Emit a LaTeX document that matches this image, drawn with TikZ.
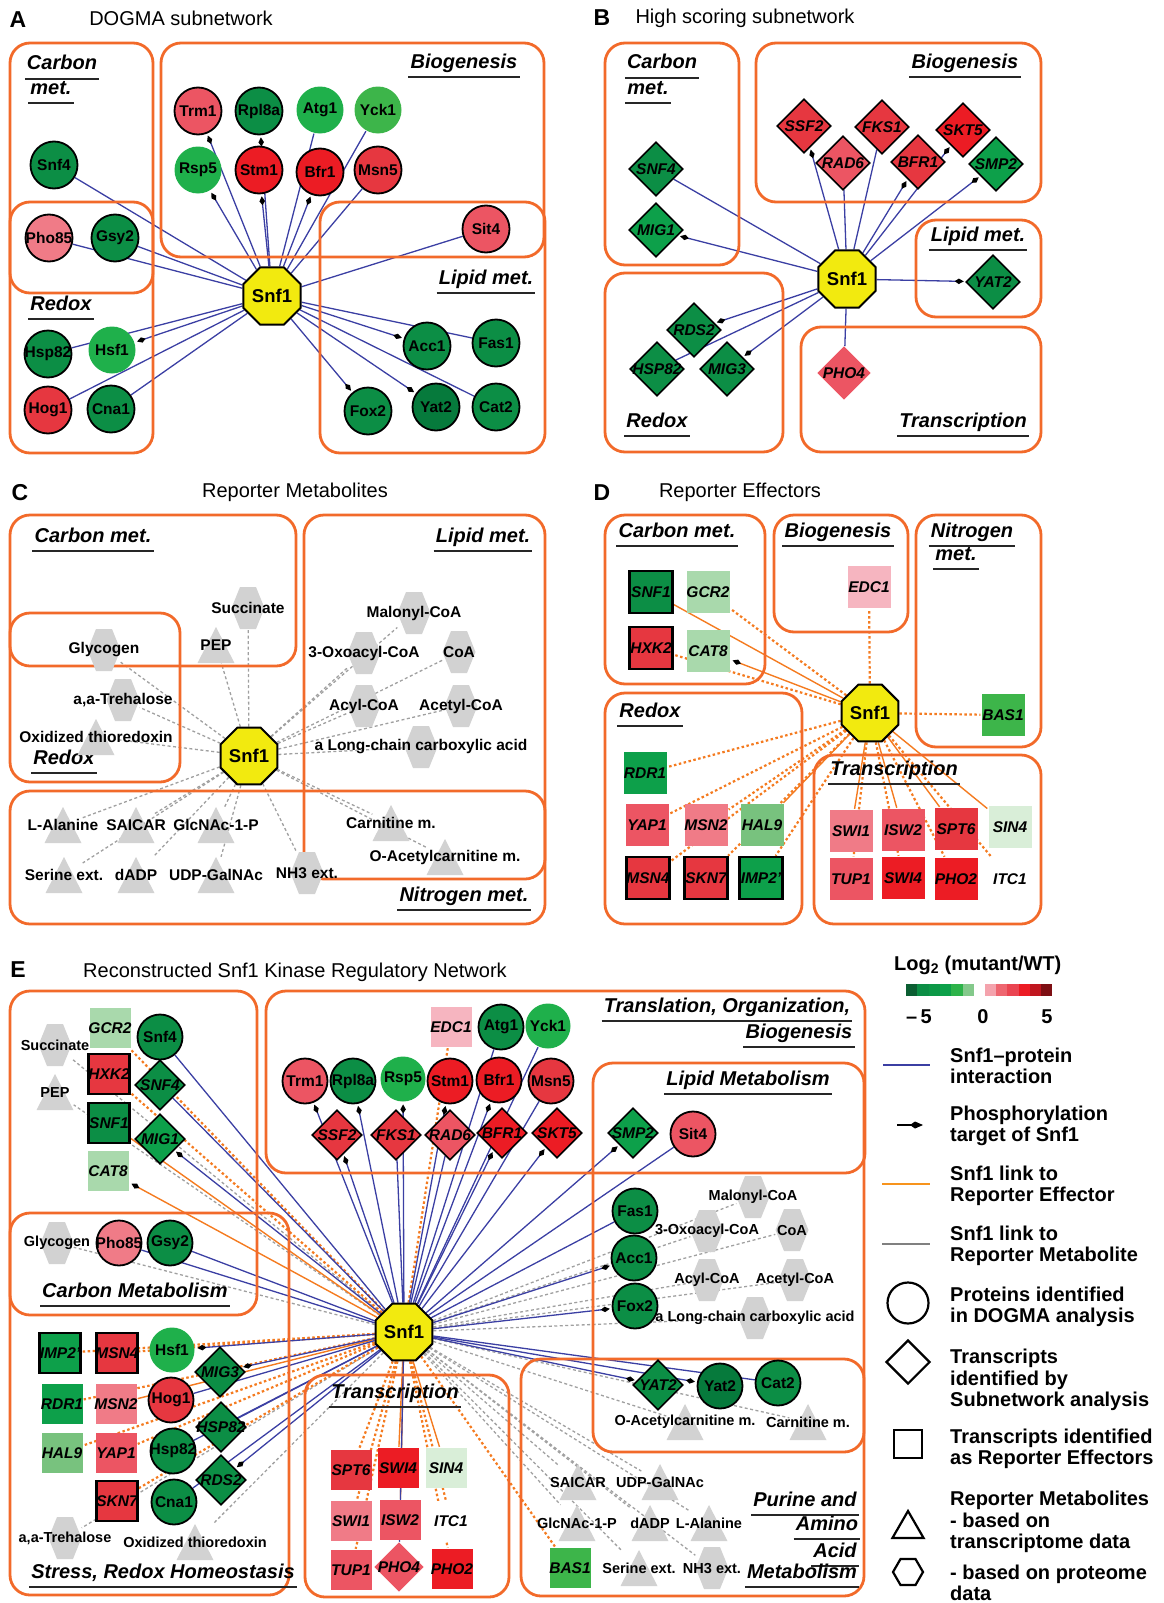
\documentclass[tikz,border=0pt]{standalone}
\usepackage{fontspec}
\setmainfont{Liberation Sans}
\usepackage{tikz}
\usetikzlibrary{arrows.meta,shapes.geometric,backgrounds,calc}
\definecolor{boxor}{HTML}{F26A2A}
\definecolor{pblue}{HTML}{3B3FA3}
\definecolor{effor}{HTML}{F47B20}
\definecolor{legor}{HTML}{F7941D}
\definecolor{metln}{HTML}{A0A0A0}
\definecolor{metgray}{HTML}{D2D2D2}
\definecolor{hubyel}{HTML}{F2EA0F}
\definecolor{gdk}{HTML}{0C8E45}
\definecolor{gdd}{HTML}{067A3C}
\definecolor{gmd}{HTML}{0DA04A}
\definecolor{glt}{HTML}{1FB04B}
\definecolor{gl2}{HTML}{3DB54A}
\definecolor{ghal}{HTML}{78C27E}
\definecolor{gpale}{HTML}{A9D9AC}
\definecolor{gwhite}{HTML}{D9EED8}
\definecolor{rbr}{HTML}{EC1C24}
\definecolor{rmd}{HTML}{E63740}
\definecolor{rlt}{HTML}{EC5563}
\definecolor{rpk}{HTML}{F07B87}
\definecolor{rpale}{HTML}{F6B5C0}
\newcommand\glab{\fontsize{20}{22}\selectfont\bfseries\itshape}
\newcommand\nlab{\fontsize{15.5}{17}\selectfont\bfseries}
\newcommand\ilab{\fontsize{15.5}{17}\selectfont\bfseries\itshape}
\newcommand\mlabc{\fontsize{15.5}{17}\selectfont\bfseries}
\newcommand\mlabe{\fontsize{14.5}{16}\selectfont\bfseries}
\newcommand\hubf{\fontsize{18.5}{20}\selectfont\bfseries}
\newcommand\ttlf{\fontsize{20}{22}\selectfont}
\newcommand\letf{\fontsize{23}{25}\selectfont\bfseries}
\newcommand\legf{\fontsize{20}{21.5}\selectfont\bfseries}
\tikzset{>=Latex,grpbox/.style={draw=boxor,line width=2.8pt,rounded corners=20pt},
hub/.style={regular polygon,regular polygon sides=8,fill=hubyel,draw=black,line width=2pt,inner sep=0pt,font=\hubf},
prot/.style={circle,line width=1.8pt,minimum size=47pt,inner sep=0pt},
tdia/.style={diamond,aspect=1,line width=1.6pt,minimum size=54pt,inner sep=0pt},
tsq/.style={rectangle,line width=2.4pt,minimum width=43pt,minimum height=42pt,inner sep=0pt},
hexm/.style={rectangle,minimum width=33pt,minimum height=42pt,inner sep=0pt,path picture={\fill[metgray] (path picture bounding box.west) -- ([xshift=-8pt]path picture bounding box.north) -- ([xshift=8pt]path picture bounding box.north) -- (path picture bounding box.east) -- ([xshift=8pt]path picture bounding box.south) -- ([xshift=-8pt]path picture bounding box.south) -- cycle;}},
trimet/.style={rectangle,minimum width=37pt,minimum height=36pt,inner sep=0pt,path picture={\fill[metgray] (path picture bounding box.north) -- (path picture bounding box.south east) -- (path picture bounding box.south west) -- cycle;}},
nl/.style={font=\nlab,inner sep=0pt},il/.style={font=\ilab,inner sep=0pt},mlc/.style={font=\mlabc,inner sep=0pt},mle/.style={font=\mlabe,inner sep=0pt},
grp/.style={font=\glab,inner sep=0pt,text height=15pt,text depth=5pt},uline/.style={line width=1.6pt,black!85},
pint/.style={draw=pblue,line width=1.3pt},phos/.style={-{Kite[length=9pt,width=5.5pt,inset=4pt,color=black]},shorten >=2pt},
reff/.style={draw=effor,line width=1.4pt},reffd/.style={draw=effor,line width=2.2pt,dash pattern=on 2.5pt off 2.5pt},
rmet/.style={draw=metln,line width=1.3pt,dash pattern=on 3pt off 2.5pt},
legt/.style={font=\legf,anchor=west,align=left,inner sep=0pt}}
\begin{document}
\begin{tikzpicture}[x=1pt,y=-1pt]
\useasboundingbox (0,0) rectangle (1164,1603);
\foreach \xa/\ya/\xb/\yb in {10/43/153/293,10/202/153/453,161/43/544/257,320/202/545/453,605/43/739/265,756/43/1041/202,916/220/1041/317,605/273/783/452,801/327/1041/452,10/515/296/666,10/613/180/782,304/515/545/879,10/791/545/924,605/515/765/684,774/515/908/632,916/515/1041/747,605/693/802/924,814/755/1041/924,10/991/257/1315,10/1213/289/1595,266/991/865/1173,593/1063/864/1452,521/1359/864/1596,305/1375/509/1597}{\draw[grpbox] (\xa,\ya) rectangle (\xb,\yb);}
\foreach \x/\y/\n/\txt in {18/20/a/A,602/18/b/B,20/493/c/C,602/493/d/D,18/970/e/E}{\node[font=\letf] (let-\n) at (\x,\y) {\txt};}
\foreach \x/\y/\n/\txt in {181/18/a/DOGMA subnetwork,745/18/b/High scoring subnetwork,295/492/c/Reporter Metabolites,740/492/d/Reporter Effectors,295/972/e/Reconstructed Snf1 Kinase Regulatory Network}{\node[font=\ttlf] (ttl-\n) at (\x,\y) {\txt};}
\foreach \x/\y/\n/\txt in {62/65/a-gc1/Carbon,51/89/a-gc2/met.,464/63/a-gb/Biogenesis,486/279/a-gl/Lipid met.,61/305/a-gr/Redox,
662/64/b-gc1/Carbon,648/89/b-gc2/met.,965/63/b-gb/Biogenesis,978/236/b-gl/Lipid met.,657/422/b-gr/Redox,963/422/b-gt/Transcription,
93/537/c-gc/Carbon met.,483/537/c-gl/Lipid met.,64/759/c-gr/Redox,464/896/c-gn/Nitrogen met.,
677/532/d-gc/Carbon met.,838/532/d-gb/Biogenesis,972/532/d-gn1/Nitrogen,956/555/d-gn2/met.,650/712/d-gr/Redox,894/770/d-gt/Transcription,
135/1292/e-gc/Carbon Metabolism,727/1007/e-gt1/{Translation, Organization,},799/1033/e-gt2/Biogenesis,748/1080/e-gl/Lipid Metabolism,395/1393/e-gtr/Transcription,163/1573/e-gs/{Stress, Redox Homeostasis},805/1501/e-gp1/Purine and,827/1525/e-gp2/Amino,835/1552/e-gp3/Acid,802/1573/e-gp4/Metabolism}{\node[grp] (\n) at (\x,\y) {\txt}; \draw[uline] ([shift={(-2pt,-4pt)}]\n.south west) -- ([shift={(2pt,-4pt)}]\n.south east);}
\foreach \x/\y/\n/\s in {272/296/a-snf1/62pt,847/279/b-snf1/62pt,249/756/c-snf1/60pt,870/713/d-snf1/60pt,404/1332/e-snf1/56pt}{\node[hub,minimum size=\s] (\n) at (\x,\y) {Snf1};}
\foreach \x/\y/\n/\col/\bd/\txt in {198/111/a-trm1/rlt/black/Trm1,259/111/a-rpl8a/gdk/black/Rpl8a,320/110/a-atg1/glt/none/Atg1,378/110/a-yck1/gl2/none/Yck1,198/170/a-rsp5/glt/none/Rsp5,259/170/a-stm1/rbr/black/Stm1,320/172/a-bfr1/rbr/black/Bfr1,378/170/a-msn5/rmd/black/Msn5,486/229/a-sit4/rlt/black/Sit4,54/165/a-snf4/gdk/black/Snf4,49/238/a-pho85/rpk/black/Pho85,115/238/a-gsy2/gdk/black/Gsy2,48/354/a-hsp82/gdk/black/Hsp82,112/350/a-hsf1/glt/none/Hsf1,48/410/a-hog1/rmd/black/Hog1,111/409/a-cna1/gdk/black/Cna1,427/346/a-acc1/gdk/black/Acc1,496/343/a-fas1/gdk/black/Fas1,368/411/a-fox2/gdk/black/Fox2,436/407/a-yat2/gdd/black/Yat2,496/407/a-cat2/gdk/black/Cat2}{\node[prot,fill=\col,draw=\bd,label={[nl]center:\txt}] (\n) at (\x,\y) {};}
\foreach \x/\y/\n/\col/\bd/\txt in {656/169/b-snf4/gdk/black/SNF4,656/230/b-mig1/gmd/black/MIG1,804/126/b-ssf2/rmd/black/SSF2,843/163/b-rad6/rlt/black/RAD6,882/127/b-fks1/rmd/black/FKS1,918/162/b-bfr1/rmd/black/BFR1,963/130/b-skt5/rbr/black/SKT5,996/164/b-smp2/gmd/black/SMP2,993/282/b-yat2/gdk/black/YAT2,694/330/b-rds2/gdk/black/RDS2,657/369/b-hsp82/gdk/black/HSP82,727/369/b-mig3/gdk/black/MIG3,844/373/b-pho4/rlt/none/PHO4}{\node[tdia,fill=\col,draw=\bd,label={[il]center:\txt}] (\n) at (\x,\y) {};}
\foreach \x/\y/\n/\txt in {248/608/c-succ/Succinate,104/650/c-glyc/Glycogen,123/700/c-treh/{a,a-Trehalose},414/613/c-malo/Malonyl-CoA,364/653/c-oxo/3-Oxoacyl-CoA,459/652/c-coa/CoA,364/706/c-acyl/Acyl-CoA,461/706/c-acet/Acetyl-CoA,421/747/c-long/a Long-chain carboxylic acid,307/873/c-nh3/NH3 ext.}{\node[hexm,label={[mlc]center:\txt}] (\n) at (\x,\y) {};}
\foreach \x/\y/\n/\txt in {216/645/c-pep/PEP,96/737/c-oxth/Oxidized thioredoxin,63/825/c-ala/L-Alanine,136/825/c-saic/SAICAR,216/825/c-glcn/GlcNAc-1-P,64/875/c-ser/Serine ext.,136/875/c-dadp/dADP,216/875/c-udp/UDP-GalNAc,391/823/c-carn/Carnitine m.,445/857/c-oac/O-Acetylcarnitine m.}{\node[trimet,label={[mlc]center:\txt}] (\n) at (\x,\y) {};}
\foreach \x/\y/\n/\col/\bd/\txt in {651/592/d-snf1sq/gdk/black/SNF1,708/592/d-gcr2/gpale/none/GCR2,651/648/d-hxk2/rmd/black/HXK2,708/651/d-cat8/gpale/none/CAT8,869/587/d-edc1/rpale/none/EDC1,1003/715/d-bas1/gl2/none/BAS1,645/773/d-rdr1/gmd/none/RDR1,647/825/d-yap1/rlt/none/YAP1,706/825/d-msn2/rpk/none/MSN2,762/825/d-hal9/ghal/none/HAL9,648/878/d-msn4/rmd/black/MSN4,706/878/d-skn7/rmd/black/SKN7,761/878/d-imp2/gmd/black/IMP2',851/831/d-swi1/rpk/none/SWI1,903/830/d-isw2/rlt/none/ISW2,956/829/d-spt6/rmd/none/SPT6,1010/827/d-sin4/gwhite/none/SIN4,851/879/d-tup1/rlt/none/TUP1,903/878/d-swi4/rbr/none/SWI4,956/879/d-pho2/rbr/none/PHO2,1010/879/d-itc1/white/none/ITC1}{\node[tsq,fill=\col,draw=\bd,label={[il]center:\txt}] (\n) at (\x,\y) {};}
\foreach \x/\y/\n/\col/\bd/\txt in {160/1037/e-snf4/gdk/black/Snf4,119/1243/e-pho85/rpk/black/Pho85,170/1243/e-gsy2/gdk/black/Gsy2,501/1027/e-atg1/gdk/black/Atg1,548/1026/e-yck1/glt/none/Yck1,305/1081/e-trm1/rlt/black/Trm1,353/1081/e-rpl8a/gdk/black/Rpl8a,403/1079/e-rsp5/glt/none/Rsp5,450/1081/e-stm1/rbr/black/Stm1,499/1080/e-bfr1/rbr/black/Bfr1,551/1081/e-msn5/rmd/black/Msn5,693/1134/e-sit4/rlt/black/Sit4,635/1211/e-fas1/gdk/black/Fas1,634/1258/e-acc1/gdk/black/Acc1,635/1306/e-fox2/gdk/black/Fox2,720/1386/e-yat2/gdd/black/Yat2,778/1383/e-cat2/gdk/black/Cat2,172/1350/e-hsf1/glt/none/Hsf1,171/1400/e-hog1/rmd/black/Hog1,173/1451/e-hsp82/gdk/black/Hsp82,174/1502/e-cna1/gdk/black/Cna1}{\node[prot,minimum size=45pt,fill=\col,draw=\bd,label={[nl]center:\txt}] (\n) at (\x,\y) {};}
\foreach \x/\y/\n/\col/\bd/\txt in {160/1085/e-snf4d/gdk/black/SNF4,160/1139/e-mig1/gmd/black/MIG1,337/1135/e-ssf2/rmd/black/SSF2,396/1135/e-fks1/rmd/black/FKS1,450/1135/e-rad6/rlt/black/RAD6,502/1133/e-bfr1d/rbr/black/BFR1,557/1133/e-skt5/rbr/black/SKT5,633/1133/e-smp2/gmd/black/SMP2,658/1385/e-yat2d/gdk/black/YAT2,220/1372/e-mig3/gdk/black/MIG3,221/1427/e-hsp82d/gdk/black/HSP82,221/1480/e-rds2/gdk/black/RDS2,399/1567/e-pho4/rlt/none/PHO4}{\node[tdia,minimum size=50pt,fill=\col,draw=\bd,label={[il]center:\txt}] (\n) at (\x,\y) {};}
\foreach \x/\y/\n/\col/\bd/\txt in {110/1028/e-gcr2/gpale/none/GCR2,109/1074/e-hxk2/rmd/black/HXK2,109/1123/e-snf1sq/gdk/black/SNF1,108/1171/e-cat8/gpale/none/CAT8,451/1027/e-edc1/rpale/none/EDC1,60/1353/e-imp2/gmd/black/IMP2',117/1353/e-msn4/rmd/black/MSN4,62/1404/e-rdr1/gmd/none/RDR1,116/1404/e-msn2/rpk/none/MSN2,62/1453/e-hal9/ghal/none/HAL9,116/1453/e-yap1/rlt/none/YAP1,117/1501/e-skn7/rmd/black/SKN7,351/1470/e-spt6/rmd/none/SPT6,398/1468/e-swi4/rbr/none/SWI4,446/1468/e-sin4/gwhite/none/SIN4,351/1521/e-swi1/rpk/none/SWI1,400/1520/e-isw2/rlt/none/ISW2,451/1521/e-itc1/white/none/ITC1,351/1570/e-tup1/rlt/none/TUP1,452/1569/e-pho2/rbr/none/PHO2,570/1568/e-bas1/gl2/none/BAS1}{\node[tsq,minimum width=41pt,minimum height=40pt,fill=\col,draw=\bd,label={[il]center:\txt}] (\n) at (\x,\y) {};}
\foreach \x/\y/\n/\txt in {55/1045/e-succ/Succinate,57/1243/e-glyc/Glycogen,65/1538/e-treh/{a,a-Trehalose},753/1197/e-malo/Malonyl-CoA,707/1231/e-oxo/3-Oxoacyl-CoA,792/1230/e-coa/CoA,707/1280/e-acyl/Acyl-CoA,795/1280/e-acet/Acetyl-CoA,755/1318/e-long/a Long-chain carboxylic acid,712/1568/e-nh3/NH3 ext.}{\node[hexm,label={[mle]center:\txt}] (\n) at (\x,\y) {};}
\foreach \x/\y/\n/\txt in {55/1092/e-pep/PEP,195/1542/e-oxth/Oxidized thioredoxin,685/1422/e-oac/O-Acetylcarnitine m.,808/1422/e-carn/Carnitine m.,578/1482/e-saic/SAICAR,660/1482/e-udp/UDP-GalNAc,577/1523/e-glcn/GlcNAc-1-P,650/1523/e-dadp/dADP,709/1523/e-ala/L-Alanine,639/1568/e-ser/Serine ext.}{\node[trimet,label={[mle]center:\txt}] (\n) at (\x,\y) {};}
\begin{scope}[on background layer]
\foreach \n in {a-snf4,a-pho85,a-gsy2,a-atg1,a-yck1,a-msn5,a-sit4,a-hsp82,a-hog1,a-cna1,a-fas1,a-cat2}{\draw[pint] (a-snf1) -- (\n);}
\foreach \n in {a-trm1,a-rsp5,a-rpl8a,a-stm1,a-bfr1,a-hsf1,a-acc1,a-fox2,a-yat2}{\draw[pint,phos] (a-snf1) -- (\n);}
\foreach \n in {b-snf4,b-rad6,b-fks1,b-hsp82,b-pho4}{\draw[pint] (b-snf1) -- (\n);}
\foreach \n in {b-mig1,b-ssf2,b-bfr1,b-skt5,b-smp2,b-yat2,b-rds2,b-mig3}{\draw[pint,phos] (b-snf1) -- (\n);}
\foreach \n in {c-succ,c-glyc,c-treh,c-malo,c-oxo,c-coa,c-acyl,c-acet,c-long,c-nh3,c-pep,c-oxth,c-ala,c-saic,c-glcn,c-ser,c-dadp,c-udp,c-carn,c-oac}{\draw[rmet] (c-snf1) -- (\n);}
\foreach \n in {d-snf1sq,d-hal9,d-swi1,d-isw2,d-spt6,d-sin4}{\draw[reff] (d-snf1) -- (\n);}
\draw[reff,phos] (d-snf1) -- (d-cat8);
\foreach \n in {d-gcr2,d-hxk2,d-edc1,d-bas1,d-rdr1,d-yap1,d-msn2,d-msn4,d-skn7,d-imp2,d-tup1,d-swi4,d-pho2,d-itc1}{\draw[reffd] (d-snf1) -- (\n);}
\foreach \n in {e-succ,e-glyc,e-treh,e-malo,e-oxo,e-coa,e-acyl,e-acet,e-long,e-nh3,e-pep,e-oxth,e-oac,e-carn,e-saic,e-udp,e-glcn,e-dadp,e-ala,e-ser}{\draw[rmet] (e-snf1) -- (\n);}
\foreach \n in {e-gcr2,e-hxk2,e-edc1,e-imp2,e-msn4,e-rdr1,e-hal9,e-yap1,e-skn7,e-spt6,e-swi1,e-tup1,e-pho2,e-itc1,e-bas1}{\draw[reffd] (e-snf1) -- (\n);}
\foreach \n in {e-snf1sq,e-msn2,e-swi4,e-sin4,e-isw2}{\draw[reff] (e-snf1) -- (\n);}
\draw[reff,phos] (e-snf1) -- (e-cat8);
\foreach \n in {e-snf4,e-snf4d,e-gsy2,e-pho85,e-atg1,e-yck1,e-msn5,e-rad6,e-fks1,e-sit4,e-fas1,e-cat2,e-hog1,e-hsp82,e-hsp82d,e-cna1,e-pho4}{\draw[pint] (e-snf1) -- (\n);}
\foreach \n in {e-mig1,e-trm1,e-rpl8a,e-rsp5,e-stm1,e-bfr1,e-ssf2,e-bfr1d,e-skt5,e-smp2,e-acc1,e-fox2,e-yat2d,e-yat2,e-hsf1,e-mig3,e-rds2}{\draw[pint,phos] (e-snf1) -- (\n);}
\end{scope}
\node[font=\legf,anchor=west,inner sep=0pt] (l-log) at (894,965) {Log\textsubscript{2} (mutant/WT)};
\foreach \i/\col in {0/0B5E32,1/0C8E45,2/0C9846,3/0DA04A,4/2DB34A,5/84C98B}{\definecolor{barc}{HTML}{\col}\fill[barc] (906+11.3*\i,984) rectangle (917.3+11.3*\i,996);}
\foreach \i/\col in {0/F4A3AD,1/EE6670,2/EA4551,3/EC1C24,4/C0161F,5/7E0F13}{\definecolor{barc}{HTML}{\col}\fill[barc] (985+11.2*\i,984) rectangle (996.2+11.2*\i,996);}
\node[font=\legf] (l-m5) at (919,1017) {--\,5};
\node[font=\legf] (l-0) at (983,1017) {0};
\node[font=\legf] (l-5) at (1047,1017) {5};
\coordinate (l-b1) at (883,1065); \coordinate (l-b2) at (930,1065);
\coordinate (l-k1) at (897,1125); \coordinate (l-k2) at (923,1125);
\coordinate (l-o1) at (882,1184); \coordinate (l-o2) at (930,1184);
\coordinate (l-g1) at (882,1244); \coordinate (l-g2) at (930,1244);
\draw[pint,line width=2.5pt] (l-b1) -- (l-b2);
\draw[line width=1.2pt,-{Kite[length=13pt,width=7pt,inset=5pt]}] (l-k1) -- (l-k2);
\draw[legor,line width=2.5pt] (l-o1) -- (l-o2);
\draw[gray,line width=2.5pt] (l-g1) -- (l-g2);
\node[circle,draw,line width=2.2pt,minimum size=41pt] (l-circ) at (908,1303) {};
\node[diamond,aspect=1,draw,line width=2.2pt,minimum size=44pt,inner sep=0pt] (l-dia) at (908,1362) {};
\node[rectangle,draw,line width=2.4pt,minimum size=28pt,inner sep=0pt] (l-sq) at (908,1444) {};
\node[regular polygon,regular polygon sides=3,draw,line width=2.2pt,minimum size=36pt,inner sep=0pt] (l-tri) at (908,1529) {};
\node[regular polygon,regular polygon sides=6,draw,line width=2.2pt,minimum size=30pt,inner sep=0pt] (l-hex) at (908,1572) {};
\foreach \y/\n/\txt in {1066/l-t1/{Snf1--protein\\interaction},1126/l-t2/{Phosphorylation\\target of Snf1},1186/l-t3/{Snf1 link to\\Reporter Effector},1246/l-t4/{Snf1 link to\\Reporter Metabolite},1307/l-t5/{Proteins identified\\in DOGMA analysis},1380/l-t6/{Transcripts\\identified by\\Subnetwork analysis},1449/l-t7/{Transcripts identified\\as Reporter Effectors},1522/l-t8/{Reporter Metabolites\\- based on\\transcriptome data},1583/l-t9/{- based on proteome\\data}}{\node[legt] (\n) at (950,\y) {\txt};}
\end{tikzpicture}
\end{document}
